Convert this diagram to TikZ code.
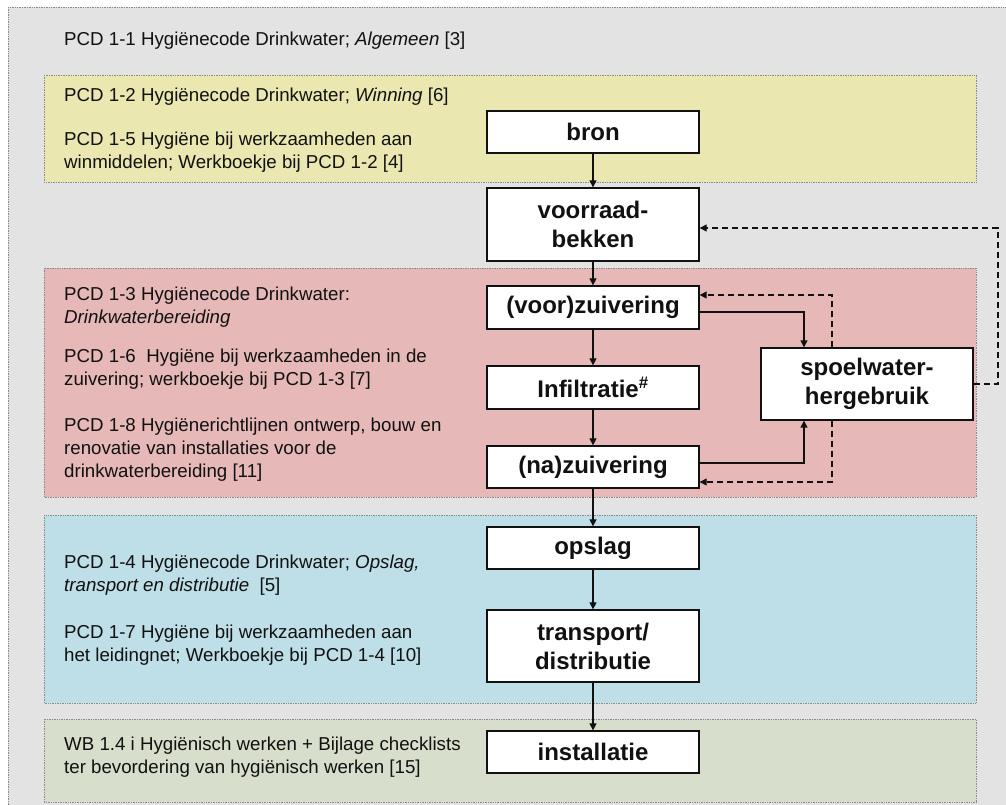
\documentclass[tikz,border=0pt]{standalone}
\usepackage{fontspec}
\setmainfont{Liberation Sans}
\usepackage{tikz}
\usetikzlibrary{arrows.meta}
\usepackage{xcolor}
\definecolor{ink}{HTML}{111111}
\definecolor{bggray}{HTML}{E3E3E3}
\definecolor{edge}{HTML}{8A8A8A}
\definecolor{yellow}{HTML}{EAE8B0}
\definecolor{red}{HTML}{E7B8B8}
\definecolor{blue}{HTML}{BEDFE7}
\definecolor{green}{HTML}{D7DECB}

\begin{document}
\begin{tikzpicture}[x=1pt, y=-1pt,
  every node/.style={inner sep=0pt, text=ink},
  panel/.style={draw=edge, densely dotted, line width=0.7pt},
  procbox/.style={draw=ink, fill=white, line width=1.3pt, minimum width=212pt,
    minimum height=42pt, align=center, font=\fontsize{24}{29}\selectfont\bfseries},
  doctext/.style={anchor=west, align=left, font=\fontsize{18.7}{23}\selectfont},
  flow/.style={draw=ink, line width=1.2pt, -{Triangle[width=7pt,length=7pt]}},
  back/.style={flow, dash pattern=on 6pt off 4pt}]
\useasboundingbox (0,0) rectangle (1006,805);
% 1. outer frame and the four coloured bands
\path[panel, fill=bggray] (8,7) rectangle (1030,830);
\path[panel, fill=yellow] (44,75) rectangle (976,182);
\path[panel, fill=red] (44,268) rectangle (976,497);
\path[panel, fill=blue] (44,515) rectangle (976,703);
\path[panel, fill=green] (44,719) rectangle (976,802);
% 2. the documents that belong to each band
\node[doctext] (t11) at (64,41) {PCD 1-1 Hygiënecode Drinkwater; \textit{Algemeen} [3]};
\node[doctext] (t12) at (64,97) {PCD 1-2 Hygiënecode Drinkwater; \textit{Winning} [6]};
\node[doctext] (t15) at (64,152) {PCD 1-5 Hygiëne bij werkzaamheden aan\\winmiddelen; Werkboekje bij PCD 1-2 [4]};
\node[doctext] (t13) at (64,307.5) {PCD 1-3 Hygiënecode Drinkwater:\\\textit{Drinkwaterbereiding}};
\node[doctext] (t16) at (64,369) {PCD 1-6~~Hygiëne bij werkzaamheden in de\\zuivering; werkboekje bij PCD 1-3 [7]};
\node[doctext] (t18) at (64,450) {PCD 1-8 Hygiënerichtlijnen ontwerp, bouw en\\renovatie van installaties voor de\\drinkwaterbereiding [11]};
\node[doctext] (t14) at (64,575.5) {PCD 1-4 Hygiënecode Drinkwater; \textit{Opslag,}\\\textit{transport en distributie}~~[5]};
\node[doctext] (t17) at (64,645.5) {PCD 1-7 Hygiëne bij werkzaamheden aan\\het leidingnet; Werkboekje bij PCD 1-4 [10]};
\node[doctext] (twb) at (64,757) {WB 1.4 i Hygiënisch werken + Bijlage checklists\\ter bevordering van hygiënisch werken [15]};
% 3. the chain from source to installation
\node[procbox] (bron) at (593,132) {bron};
\node[procbox, minimum height=73pt] (bekken) at (593,224.5) {voorraad-\\bekken};
\node[procbox, minimum height=43pt] (voor) at (593,307.5) {(voor)zuivering};
\node[procbox, minimum height=43pt] (infil) at (593,387.5) {Infiltratie\textsuperscript{\#}};
\node[procbox] (na) at (593,467) {(na)zuivering};
\node[procbox, minimum height=72pt] (spoel) at (867,384) {spoelwater-\\hergebruik};
\node[procbox] (opslag) at (593,548) {opslag};
\node[procbox, minimum height=72pt] (transp) at (593,646) {transport/\\distributie};
\node[procbox] (install) at (593,752) {installatie};
\draw[flow] (bron) -- (bekken);
\draw[flow] (bekken) -- (voor);
\draw[flow] (voor) -- (infil);
\draw[flow] (infil) -- (na);
\draw[flow] (na) -- (opslag);
\draw[flow] (opslag) -- (transp);
\draw[flow] (transp) -- (install);
% 4. wash water out to reuse and back again (dashed)
\draw[flow] ([yshift=-4.5pt]voor.east) -| ([xshift=-63pt]spoel.north);
\draw[flow] ([yshift=4pt]na.east) -| ([xshift=-63pt]spoel.south);
\draw[back] ([xshift=-35pt]spoel.north) |- ([yshift=12.5pt]voor.east);
\draw[back] ([xshift=-35pt]spoel.south) |- ([yshift=-15pt]na.east);
\coordinate (ret) at (998,228);
\draw[back] (spoel.east) -| (ret) -- ([yshift=-3.5pt]bekken.east);
\end{tikzpicture}
\end{document}
